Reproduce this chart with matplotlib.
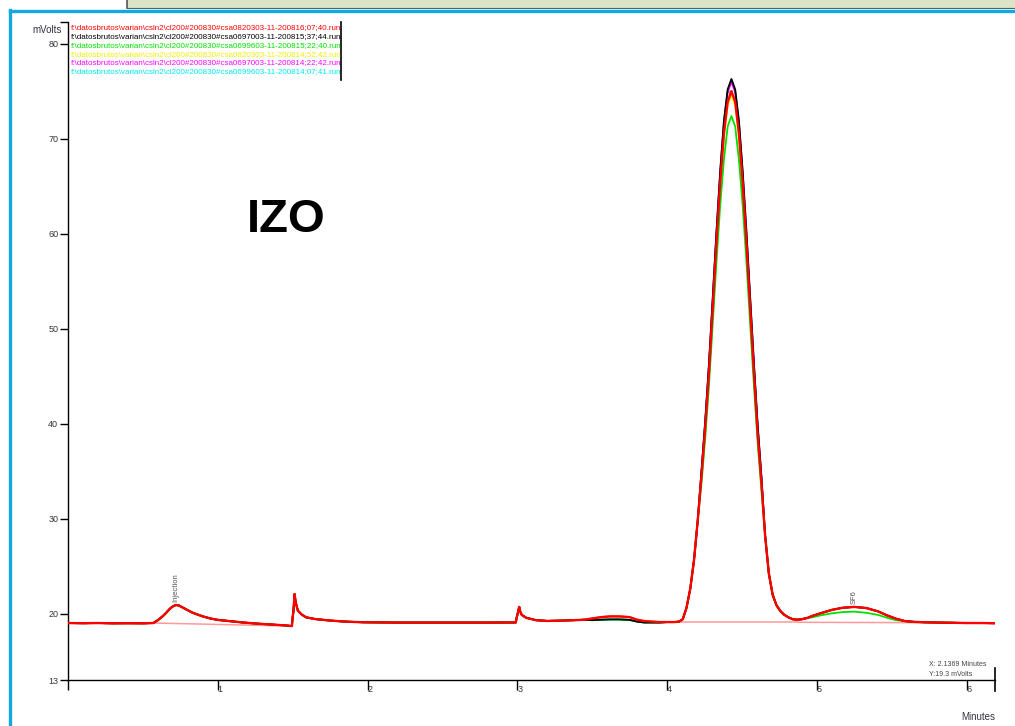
import matplotlib.pyplot as plt
from matplotlib.lines import Line2D
from matplotlib.patches import Rectangle

t_pre = [0.00, 0.10, 0.20, 0.30, 0.40, 0.50, 0.57, 0.60, 0.635, 0.66, 0.68, 0.70, 0.72, 0.74,
         0.77, 0.80, 0.83, 0.86, 0.90, 0.95, 1.00, 1.08, 1.16, 1.25, 1.35, 1.45, 1.495, 1.50,
         1.505, 1.513, 1.52, 1.535, 1.56, 1.59, 1.65, 1.75, 1.85, 1.97, 2.20, 2.50, 2.80,
         2.99, 2.995, 3.002, 3.013, 3.02, 3.03, 3.06, 3.125, 3.20, 3.28, 3.38, 3.45]
y_pre = [19.00, 18.98, 19.00, 18.97, 18.98, 18.97, 19.00, 19.30, 19.75, 20.15, 20.50, 20.75, 20.90, 20.85,
         20.60, 20.35, 20.10, 19.92, 19.70, 19.48, 19.33, 19.20, 19.07, 18.95, 18.85, 18.75, 18.68, 19.60,
         20.20, 22.05, 21.20, 20.30, 19.90, 19.60, 19.42, 19.26, 19.15, 19.08, 19.05, 19.05, 19.05,
         19.06, 19.50, 19.95, 20.70, 20.20, 19.85, 19.55, 19.30, 19.22, 19.25, 19.30, 19.35]

t_hump = [3.50, 3.56, 3.62, 3.68, 3.75, 3.80, 3.85, 3.90, 3.95]
hump_hi = [19.48, 19.62, 19.70, 19.70, 19.62, 19.35, 19.20, 19.15, 19.10]
hump_lo = [19.30, 19.35, 19.38, 19.38, 19.33, 19.15, 19.05, 19.05, 19.05]

t_flat = [4.00, 4.05, 4.08, 4.105, 4.13, 4.155, 4.18, 4.205]
y_flat = [19.10, 19.10, 19.15, 19.40, 20.60, 22.60, 25.60, 29.80]

t_main = [4.230, 4.255, 4.280, 4.305, 4.330, 4.355, 4.380, 4.405, 4.430,
          4.455, 4.480, 4.505, 4.530, 4.555, 4.580, 4.605, 4.630]
main_red = [34.5, 39.6, 45.4, 52.2, 59.1, 65.4, 70.6, 73.9, 75.0, 73.9, 70.6, 65.4, 59.1, 52.2, 45.4, 39.0, 33.8]
main_black = [35.0, 40.3, 46.3, 53.2, 60.2, 66.6, 71.9, 75.2, 76.3, 75.2, 71.9, 66.6, 60.3, 53.3, 46.4, 39.9, 34.5]
main_green = [33.7, 38.5, 44.0, 50.5, 57.0, 63.0, 67.8, 71.3, 72.4, 71.3, 67.8, 63.0, 57.1, 50.5, 44.1, 38.0, 33.1]
main_yellow = [34.3, 39.4, 45.2, 51.9, 58.8, 65.0, 70.2, 73.5, 74.6, 73.5, 70.2, 65.0, 58.8, 51.9, 45.2, 38.8, 33.6]
main_magenta = [34.9, 40.1, 46.1, 53.0, 60.0, 66.3, 71.6, 74.9, 76.0, 74.9, 71.6, 66.3, 60.0, 53.1, 46.2, 39.7, 34.4]
main_cyan = [34.9, 40.2, 46.2, 53.1, 60.1, 66.5, 71.8, 75.1, 76.2, 75.1, 71.8, 66.5, 60.2, 53.2, 46.3, 39.8, 34.4]

t_mid = [4.655, 4.68, 4.705, 4.73, 4.755, 4.78, 4.81, 4.84, 4.87, 4.90, 4.94]
y_mid = [28.2, 24.2, 22.0, 20.9, 20.3, 19.9, 19.6, 19.4, 19.35, 19.40, 19.55]

t_sf6 = [4.97, 5.03, 5.10, 5.17, 5.25, 5.33, 5.41, 5.47, 5.53]
sf6_hi = [19.75, 20.05, 20.38, 20.60, 20.70, 20.58, 20.22, 19.80, 19.45]
sf6_lo = [19.60, 19.82, 20.02, 20.15, 20.20, 20.08, 19.85, 19.55, 19.30]

t_end = [5.59, 5.65, 5.72, 5.81, 5.90, 6.00, 6.10, 6.19]
y_end = [19.20, 19.12, 19.08, 19.05, 19.03, 19.00, 19.00, 18.98]

# linhas de base da integração
base_t0 = [0.57, 4.08, 4.87]
base_t1 = [1.495, 4.87, 5.85]
base_y0 = [19.00, 19.08, 19.08]
base_y1 = [18.68, 19.08, 19.03]

files = [
    "f:\\datosbrutos\\varian\\csln2\\cl200#200830#csa0820303-11-200816;07;40.run",
    "f:\\datosbrutos\\varian\\csln2\\cl200#200830#csa0697003-11-200815;37;44.run",
    "f:\\datosbrutos\\varian\\csln2\\cl200#200830#csa0699603-11-200815;22;40.run",
    "f:\\datosbrutos\\varian\\csln2\\cl200#200830#csa0820303-11-200814;52;42.run",
    "f:\\datosbrutos\\varian\\csln2\\cl200#200830#csa0697003-11-200814;22;42.run",
    "f:\\datosbrutos\\varian\\csln2\\cl200#200830#csa0699603-11-200814;07;41.run",
]
colors = ['#ff0000', '#000000', '#00e000', '#f0f000', '#ff00ff', '#00e8f0']
humps = [hump_hi, hump_lo, hump_lo, hump_hi, hump_hi, hump_lo]
mains = [main_red, main_black, main_green, main_yellow, main_magenta, main_cyan]
sf6s = [sf6_hi, sf6_hi, sf6_lo, sf6_hi, sf6_hi, sf6_hi]

y_ticks = [13, 20, 30, 40, 50, 60, 70, 80]
x_ticks = [1, 2, 3, 4, 5, 6]

W, H = 1015, 726
fig = plt.figure(figsize=(W / 100, H / 100), dpi=100)
plt.rcParams['font.family'] = ['Liberation Sans', 'DejaVu Sans']

# moldura da janela
fig.patches.append(Rectangle((127 / W, 1 - 8 / H), 1 - 127 / W, 8 / H, transform=fig.transFigure,
                             facecolor='#dde3c6', edgecolor='none'))
fig.add_artist(Line2D([127 / W, 127 / W], [1, 1 - 8 / H], color='#555555', lw=1.2))
fig.add_artist(Line2D([127 / W, 1], [1 - 8 / H, 1 - 8 / H], color='#2f6f80', lw=0.8))
fig.add_artist(Line2D([9.5 / W, 1], [1 - 11 / H, 1 - 11 / H], color='#14a8e0', lw=2.4))
fig.add_artist(Line2D([9.5 / W, 9.5 / W], [1 - 10 / H, 0], color='#14a8e0', lw=2.4))

ax = fig.add_axes([68 / W, 1 - 680 / H, 927 / W, 658 / H])
ax.set_xlim(0, 6.19)
ax.set_ylim(13, 82.3)

t_all = t_pre + t_hump + t_flat + t_main + t_mid + t_sf6 + t_end
order = [5, 4, 3, 2, 1, 0]
for i in order:
    y_all = y_pre + humps[i] + y_flat + mains[i] + y_mid + sf6s[i] + y_end
    ax.plot(t_all, y_all, color=colors[i], lw=1.7 if i == 0 else 1.3, zorder=3 + (6 - i) * 0.1 if i else 4)

for a, b, c, d in zip(base_t0, base_t1, base_y0, base_y1):
    ax.plot([a, b], [c, d], color='#ff9a9a', lw=1.1, zorder=2)

# rótulos dos picos
ax.text(0.72, 21.2, "Injection", rotation=90, fontsize=5.5, color='#555555', ha='center', va='bottom')
ax.text(5.25, 21.0, "SF6", rotation=90, fontsize=5.5, color='#555555', ha='center', va='bottom')
ax.text(4.435, 74.4, "IZO", rotation=90, fontsize=4, color='#333333', ha='center', va='bottom')

fig.text(247 / W, 1 - 220 / H, "IZO", fontsize=34, fontweight='bold', ha='left', va='center')

for spine in ['top', 'right']:
    ax.spines[spine].set_visible(False)
ax.spines['left'].set_linewidth(1.0)
ax.spines['bottom'].set_linewidth(1.0)

ax.set_yticks(y_ticks + [82.3])
ax.set_yticklabels([str(v) for v in y_ticks] + [''])
ax.tick_params(axis='y', direction='out', length=6, width=1, pad=1, labelsize=6.5, labelcolor='#333340')
ax.set_xticks([0] + x_ticks)
ax.set_xticklabels([''] + [str(v) for v in x_ticks], ha='left')
ax.tick_params(axis='x', direction='out', length=7.5, width=1, pad=-4, labelsize=6.5, labelcolor='#333340')

fig.text(62 / W, 1 - 30 / H, "mVolts", fontsize=7, color='#333340', ha='right', va='center')

# legenda com os arquivos
for k, (name, col) in enumerate(zip(files, colors)):
    fig.text(71 / W, 1 - (28 + k * 8.7) / H, name, color=col, fontsize=5.75, ha='left', va='center')
fig.add_artist(Line2D([341 / W, 341 / W], [1 - 22 / H, 1 - 80 / H], color='black', lw=1.2))

# cursor
fig.text(929 / W, 1 - 664 / H, "X: 2.1369 Minutes", fontsize=5, color='#444444', ha='left', va='center')
fig.text(929 / W, 1 - 674 / H, "Y:19.3 mVolts", fontsize=5, color='#444444', ha='left', va='center')
fig.add_artist(Line2D([995 / W, 995 / W], [1 - 668 / H, 1 - 691 / H], color='black', lw=1.2))

fig.text(995 / W, 1 - 717 / H, "Minutes", fontsize=7, color='#333340', ha='right', va='center')

fig.savefig("out.png", dpi=100)
